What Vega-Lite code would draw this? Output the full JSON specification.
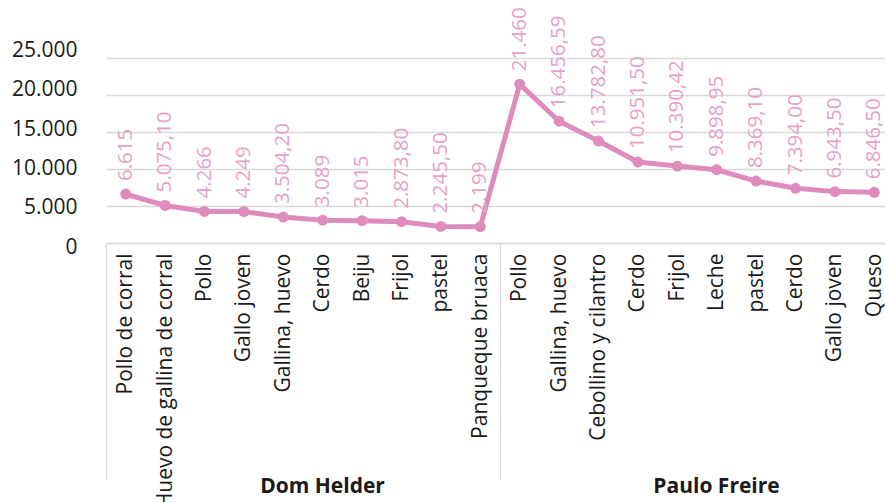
{
  "$schema": "https://vega.github.io/schema/vega-lite/v6.json",
  "width": 788,
  "height": 185,
  "autosize": {"type": "none"},
  "padding": {"left": 106, "top": 58, "right": 0, "bottom": 260},
  "background": "white",
  "config": {"view": {"stroke": null}, "font": "Open Sans"},
  "data": {"values": [
    {"group": "Dom Helder", "item": "Pollo de corral", "value": 6615, "label": "6.615"},
    {"group": "Dom Helder", "item": "Huevo de gallina de corral", "value": 5075.10, "label": "5.075,10"},
    {"group": "Dom Helder", "item": "Pollo", "value": 4266, "label": "4.266"},
    {"group": "Dom Helder", "item": "Gallo joven", "value": 4249, "label": "4.249"},
    {"group": "Dom Helder", "item": "Gallina, huevo", "value": 3504.20, "label": "3.504,20"},
    {"group": "Dom Helder", "item": "Cerdo", "value": 3089, "label": "3.089"},
    {"group": "Dom Helder", "item": "Beiju", "value": 3015, "label": "3.015"},
    {"group": "Dom Helder", "item": "Frijol", "value": 2873.80, "label": "2.873,80"},
    {"group": "Dom Helder", "item": "pastel", "value": 2245.50, "label": "2.245,50"},
    {"group": "Dom Helder", "item": "Panqueque bruaca", "value": 2199, "label": "2.199"},
    {"group": "Paulo Freire", "item": "Pollo\u200b", "value": 21460, "label": "21.460"},
    {"group": "Paulo Freire", "item": "Gallina, huevo\u200b", "value": 16456.59, "label": "16.456,59"},
    {"group": "Paulo Freire", "item": "Cebollino y cilantro", "value": 13782.80, "label": "13.782,80"},
    {"group": "Paulo Freire", "item": "Cerdo\u200b", "value": 10951.50, "label": "10.951,50"},
    {"group": "Paulo Freire", "item": "Frijol\u200b", "value": 10390.42, "label": "10.390,42"},
    {"group": "Paulo Freire", "item": "Leche", "value": 9898.95, "label": "9.898,95"},
    {"group": "Paulo Freire", "item": "pastel\u200b", "value": 8369.10, "label": "8.369,10"},
    {"group": "Paulo Freire", "item": "Cerdo\u200b\u200b", "value": 7394.00, "label": "7.394,00"},
    {"group": "Paulo Freire", "item": "Gallo joven\u200b", "value": 6943.50, "label": "6.943,50"},
    {"group": "Paulo Freire", "item": "Queso", "value": 6846.50, "label": "6.846,50"}
  ]},
  "resolve": {"scale": {"x": "independent", "y": "independent"}, "axis": {"x": "independent", "y": "independent"}},
  "layer": [
    {
      "mark": {"type": "point", "opacity": 0},
      "encoding": {
        "x": {"field": "item", "type": "nominal", "sort": null, "axis": null},
        "y": {"field": "value", "type": "quantitative", "scale": {"domain": [0, 25000], "nice": false, "zero": true, "range": [189, -7.5]},
              "axis": {"title": null, "orient": "left", "values": [0, 5000, 10000, 15000, 20000, 25000], "domain": false, "ticks": false,
                       "grid": false, "labelFontSize": 21, "labelPadding": 29,
                       "labelColor": "#1a1a1a", "labelFont": "Open Sans", "labelOverlap": false, "labelFlush": false,
                       "labelExpr": "replace(format(datum.value, ',d'), ',', '.')"}}
      }
    },
    {
      "mark": {"type": "line", "color": "#dd8cbc", "strokeWidth": 5,
               "point": {"filled": true, "size": 120, "color": "#dd8cbc", "opacity": 1}},
      "encoding": {
        "x": {"field": "item", "type": "nominal", "sort": null,
              "axis": {"title": null, "orient": "bottom", "labelAngle": -90, "labelFontSize": 21, "labelPadding": 10,
                       "ticks": false, "domainColor": "#d9d9d9", "domainWidth": 1.3, "labelColor": "#1a1a1a",
                       "labelLimit": 400, "labelFont": "Open Sans", "grid": false, "labelOverlap": false}},
        "y": {"field": "value", "type": "quantitative", "scale": {"domain": [0, 25000], "nice": false, "zero": true},
              "axis": {"title": null, "orient": "left", "values": [0, 5000, 10000, 15000, 20000, 25000], "domain": false, "ticks": false,
                       "labels": false, "grid": true, "gridColor": "#d9d9d9", "gridWidth": 1.3}}
      }
    },
    {
      "mark": {"type": "text", "angle": 270, "align": "left", "baseline": "middle", "dx": 13,
               "fontSize": 20.5, "color": "#e6a1c8", "font": "Open Sans"},
      "encoding": {
        "x": {"field": "item", "type": "nominal", "sort": null, "axis": null},
        "y": {"field": "value", "type": "quantitative", "scale": {"domain": [0, 25000], "nice": false, "zero": true}, "axis": null},
        "text": {"field": "label"}
      }
    },
    {
      "mark": {"type": "point", "opacity": 0},
      "encoding": {
        "x": {"field": "group", "type": "nominal", "sort": null,
              "scale": {"type": "band", "paddingInner": 0, "paddingOuter": 0},
              "axis": {"title": null, "orient": "bottom", "domain": false, "ticks": true, "tickBand": "extent",
                       "tickSize": 236, "tickColor": "#d9d9d9", "tickWidth": 1.3, "labelAngle": 0,
                       "labelFontSize": 21, "labelFontWeight": "bold", "labelColor": "#1a1a1a",
                       "labelPadding": -4, "labelOffset": 19, "grid": false, "labelFont": "Open Sans"}},
        "y": {"field": "value", "type": "quantitative", "scale": {"domain": [0, 25000], "nice": false, "zero": true}, "axis": null}
      }
    }
  ]
}
